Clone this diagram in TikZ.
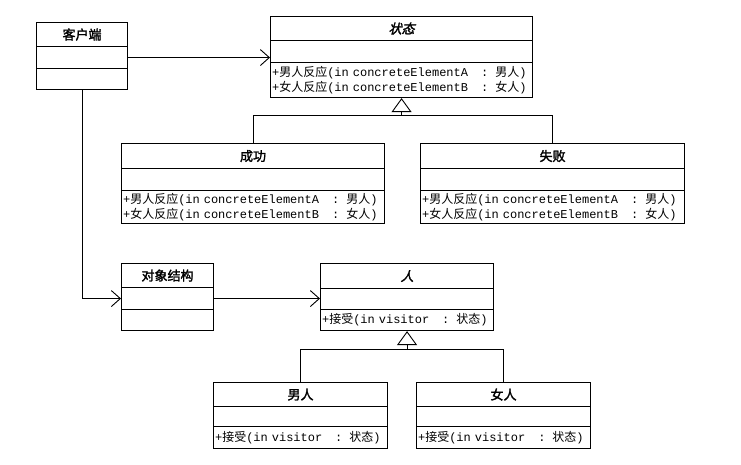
\documentclass[tikz,border=0pt]{standalone}
\usepackage{fontspec}
\setmonofont{Liberation Mono}
\newfontfamily\cjk{Noto Sans CJK SC}
\newfontfamily\cjkb[FakeBold=2]{Noto Sans CJK SC}
\newfontfamily\cjkbi[FakeBold=2,FakeSlant=0.25]{Noto Sans CJK SC}
\usetikzlibrary{arrows.meta}
\newcommand\zh[1]{{\cjk #1}}
\newcommand\tm[1]{{\ttfamily #1}}
\newcommand\colgap{\hspace{13pt}\tm{:}\hspace{7pt}}
\newcommand\umlclass[9]{%
  \node[ttl, minimum width=#4pt, minimum height=#5pt] (#1-t) at (#2,#3) {#8};
  \node[row, minimum width=#4pt, minimum height=#6pt] (#1-a) at (#2,#3+#5) {};
  \node[opr, text width=#4pt-3pt, minimum height=#7pt] (#1-o) at (#2,#3+#5+#6) {#9};
}
\tikzset{
  row/.style={draw, line width=1.1pt, inner sep=0pt, anchor=north west},
  ttl/.style={row, font=\cjkb\fontsize{13}{15}\selectfont},
  opr/.style={row, align=left, inner xsep=1.5pt, inner ysep=0pt, font=\fontsize{12}{15}\selectfont},
  conn/.style={line width=0.8pt},
  nav/.style={conn, -{Straight Barb[length=9pt,width=16pt,line width=0.9pt]}},
  gen/.style={conn, -{Triangle[open,length=14pt,width=20pt,line width=0.9pt]}},
}
\begin{document}
\begin{tikzpicture}[x=1pt,y=-1pt]
\useasboundingbox (0,0) rectangle (741,464);
\umlclass{kh}{36}{22}{91}{24}{22}{21}{客户端}{}
\umlclass{zt}{270}{16}{262}{24}{22}{35}{\cjkbi 状态}{%
  \tm{+}\zh{男人反应}\tm{(in concreteElementA}\colgap\zh{男人}\tm{)}\\
  \tm{+}\zh{女人反应}\tm{(in concreteElementB}\colgap\zh{女人}\tm{)}}
\umlclass{cg}{121}{143}{263}{25}{22}{33}{成功}{%
  \tm{+}\zh{男人反应}\tm{(in concreteElementA}\colgap\zh{男人}\tm{)}\\
  \tm{+}\zh{女人反应}\tm{(in concreteElementB}\colgap\zh{女人}\tm{)}}
\umlclass{sb}{420}{143}{264}{25}{22}{33}{失败}{%
  \tm{+}\zh{男人反应}\tm{(in concreteElementA}\colgap\zh{男人}\tm{)}\\
  \tm{+}\zh{女人反应}\tm{(in concreteElementB}\colgap\zh{女人}\tm{)}}
\umlclass{dx}{121}{263}{92}{24}{22}{21}{对象结构}{}
\umlclass{rn}{320}{263}{173}{25}{21}{21}{\cjkbi 人}{%
  \tm{+}\zh{接受}\tm{(in visitor}\colgap\zh{状态}\tm{)}}
\umlclass{nr}{213}{382}{174}{24}{20}{22}{男人}{%
  \tm{+}\zh{接受}\tm{(in visitor}\colgap\zh{状态}\tm{)}}
\umlclass{wr}{416}{382}{174}{24}{20}{22}{女人}{%
  \tm{+}\zh{接受}\tm{(in visitor}\colgap\zh{状态}\tm{)}}
% associations
\draw[nav] (kh-a.east) -- (kh-a.east -| zt-a.west);
\draw[nav] (kh-o.south) |- (dx-a.west);
\draw[nav] (dx-a.east) -- (dx-a.east -| rn-a.west);
% generalizations
\path (zt-o.south) ++(0,17) coordinate (bus1);
\draw[conn] (cg-t.north) |- (bus1) -| (sb-t.north);
\draw[gen] (bus1) -- (zt-o.south);
\path (rn-o.south) ++(0,18) coordinate (bus2);
\draw[conn] (nr-t.north) |- (bus2) -| (wr-t.north);
\draw[gen] (bus2) -- (rn-o.south);
\end{tikzpicture}
\end{document}
